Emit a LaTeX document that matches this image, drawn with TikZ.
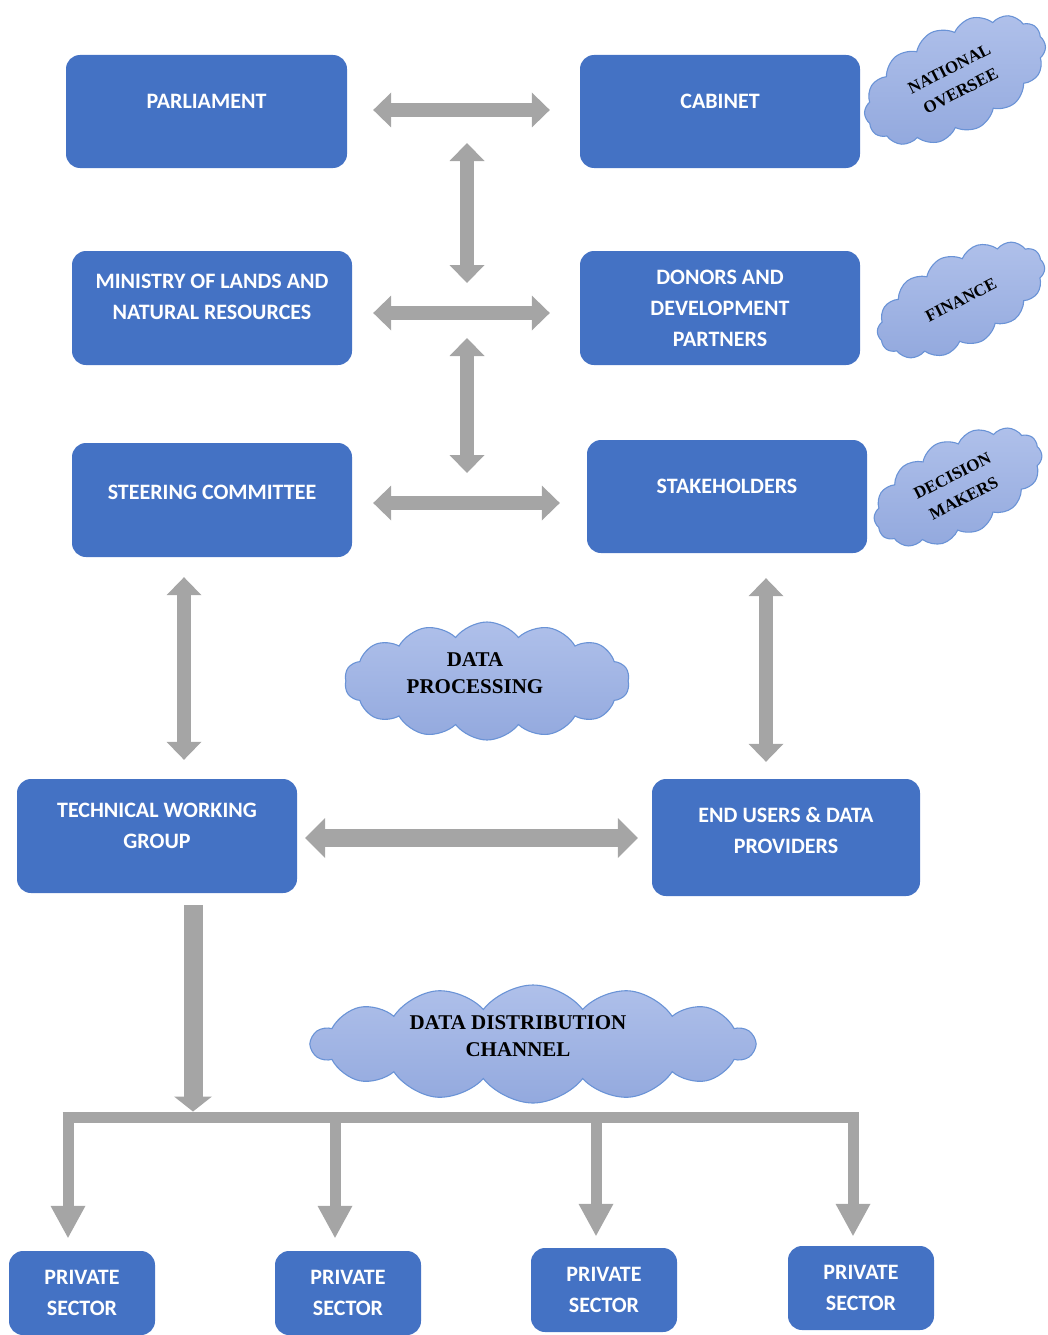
\documentclass[tikz,border=0pt]{standalone}
\usepackage{fontspec}
\setmainfont{Liberation Serif}
\newfontfamily\boxfont{Carlito}
\usetikzlibrary{shapes.symbols,arrows.meta}
\definecolor{boxblue}{HTML}{4472C4}
\definecolor{arrowgray}{HTML}{A5A5A5}
\definecolor{cloudtop}{HTML}{AFC0EA}
\definecolor{cloudbot}{HTML}{93A9DE}
\definecolor{cloudline}{HTML}{6A93D6}

\begin{document}
\begin{tikzpicture}[x=1pt,y=-1pt,
  box/.style={fill=boxblue, rounded corners=14pt, text=white, align=center,
    inner sep=0pt, font=\boxfont\bfseries\fontsize{22}{31}\selectfont},
  raise/.style={text depth=#1},
  puff/.style={cloud, cloud puffs=14, cloud puff arc=105, cloud ignores aspect,
    draw=cloudline, line width=1.1pt, top color=cloudtop, bottom color=cloudbot,
    inner sep=0pt, align=center, text=black},
  bigtext/.style={font=\bfseries\fontsize{21}{27}\selectfont},
  smalltext/.style={font=\bfseries\fontsize{17}{25}\selectfont},
  dbl/.style={draw=arrowgray, line width=14pt, {Triangle[width=35pt,length=18pt,line width=0pt]}-{Triangle[width=35pt,length=18pt,line width=0pt]}},
  dblwide/.style={draw=arrowgray, line width=18pt, {Triangle[width=40pt,length=20pt,line width=0pt]}-{Triangle[width=40pt,length=20pt,line width=0pt]}},
  trunk/.style={draw=arrowgray, line width=19pt, -{Triangle[width=38pt,length=15pt,line width=0pt]}},
  bus/.style={draw=arrowgray, line width=11pt},
  branch/.style={draw=arrowgray, line width=11pt, -{Triangle[width=35pt,length=32pt,line width=0pt]}}
]
\useasboundingbox (0,0) rectangle (1047,1335);

% governance boxes
\node[box, raise=20pt, minimum width=281pt, minimum height=113pt] (parl) at (206.5,111.5) {PARLIAMENT};
\node[box, raise=20pt, minimum width=280pt, minimum height=113pt] (cab) at (720,111.5) {CABINET};
\node[box, raise=22pt, minimum width=280pt, minimum height=114pt] (min) at (212,308) {MINISTRY OF LANDS AND\\NATURAL RESOURCES};
\node[box, minimum width=280pt, minimum height=114pt] (don) at (720,308) {DONORS AND\\DEVELOPMENT\\PARTNERS};
\node[box, raise=16pt, minimum width=280pt, minimum height=114pt] (steer) at (212,500) {STEERING COMMITTEE};
\node[box, raise=20pt, minimum width=280pt, minimum height=113pt] (stake) at (727,496.5) {STAKEHOLDERS};
\node[box, raise=20pt, minimum width=280pt, minimum height=114pt] (twg) at (157,836) {TECHNICAL WORKING\\GROUP};
\node[box, raise=14pt, minimum width=268pt, minimum height=117pt] (endu) at (786,837.5) {END USERS \& DATA\\PROVIDERS};

% private sector boxes
\node[box, minimum width=146pt, minimum height=84pt] (ps1) at (82,1293) {PRIVATE\\SECTOR};
\node[box, minimum width=146pt, minimum height=84pt] (ps2) at (348,1293) {PRIVATE\\SECTOR};
\node[box, minimum width=146pt, minimum height=84pt] (ps3) at (604,1290) {PRIVATE\\SECTOR};
\node[box, minimum width=146pt, minimum height=84pt] (ps4) at (861,1288) {PRIVATE\\SECTOR};

% clouds
\node[puff, smalltext, rotate=27, minimum width=196pt, minimum height=106pt] (nat) at (955,80) {NATIONAL\\OVERSEE};
\node[puff, smalltext, rotate=27, minimum width=182pt, minimum height=92pt] (fin) at (961,300) {FINANCE};
\node[puff, smalltext, rotate=27, minimum width=182pt, minimum height=96pt] (dec) at (958,487) {DECISION\\MAKERS};
\node[puff, bigtext, raise=16pt, minimum width=285pt, minimum height=118pt] (dp) at (487,681) {DATA\hspace*{24pt}\\PROCESSING\hspace*{24pt}};
\node[puff, bigtext, raise=16pt, minimum width=443pt, minimum height=118pt] (ddc) at (533,1044) {DATA DISTRIBUTION\hspace*{30pt}\\CHANNEL\hspace*{30pt}};

% links between the upper boxes
\draw[dbl, shorten <=26pt, shorten >=30pt] ([yshift=1.5pt]parl.east) -- ([yshift=1.5pt]parl.east -| cab.west);
\draw[dbl, shorten <=21pt, shorten >=30pt] ([yshift=-5pt]min.east) -- ([yshift=-5pt]min.east -| don.west);
\draw[dbl, shorten <=21pt, shorten >=27pt] ([yshift=-3pt]steer.east) -- ([yshift=-3pt]steer.east -| stake.west);

\coordinate (v1a) at (467,143);
\coordinate (v1b) at (467,283);
\coordinate (v2a) at (467,338);
\coordinate (v2b) at (467,473);
\draw[dbl] (v1a) -- (v1b);
\draw[dbl] (v2a) -- (v2b);

\draw[dbl, shorten <=20pt, shorten >=19pt] ([xshift=-28pt]steer.south) -- ([xshift=27pt]twg.north);
\draw[dbl, shorten <=25pt, shorten >=17pt] ([xshift=39pt]stake.south) -- ([xshift=-20pt]endu.north);
\draw[dblwide, shorten <=8pt, shorten >=14pt] ([yshift=-2pt]twg.east) -- ([yshift=-2pt]twg.east -| endu.west);

% distribution to the private sector
\coordinate (busL) at (62.5,1117);
\coordinate (busR) at (858.5,1117);
\coordinate (trunkEnd) at (193,1111.5);
\draw[trunk, shorten <=12pt] ([xshift=36pt]twg.south) -- (trunkEnd);
\draw[bus] (busL) -- (busR);
\coordinate (b1) at (68,1112);
\coordinate (b2) at (335,1112);
\coordinate (b3) at (596,1112);
\coordinate (b4) at (853,1112);
\draw[branch, shorten >=13pt] (b1) -- ([xshift=-14pt]ps1.north);
\draw[branch, shorten >=13pt] (b2) -- ([xshift=-13pt]ps2.north);
\draw[branch, shorten >=12pt] (b3) -- ([xshift=-8pt]ps3.north);
\draw[branch, shorten >=10pt] (b4) -- ([xshift=-8pt]ps4.north);
\end{tikzpicture}
\end{document}
